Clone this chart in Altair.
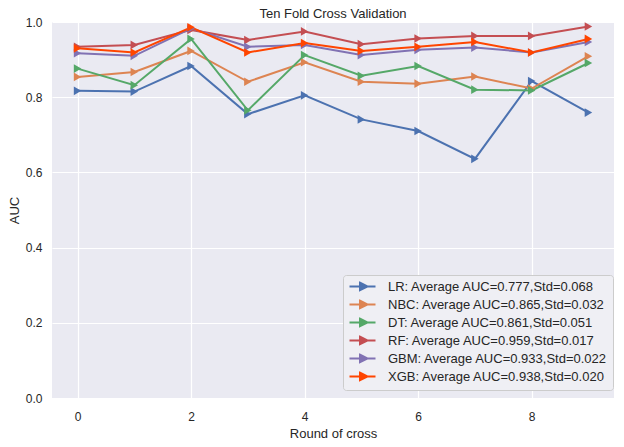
import altair as alt
import pandas as pd

rounds = list(range(10))
labels = [
    "LR: Average AUC=0.777,Std=0.068",
    "NBC: Average AUC=0.865,Std=0.032",
    "DT: Average AUC=0.861,Std=0.051",
    "RF: Average AUC=0.959,Std=0.017",
    "GBM: Average AUC=0.933,Std=0.022",
    "XGB: Average AUC=0.938,Std=0.020",
]
lr = [0.817, 0.815, 0.883, 0.755, 0.805, 0.741, 0.710, 0.636, 0.843, 0.759]
nbc = [0.854, 0.867, 0.923, 0.841, 0.893, 0.841, 0.836, 0.855, 0.823, 0.909]
dt = [0.876, 0.832, 0.955, 0.765, 0.912, 0.857, 0.883, 0.820, 0.818, 0.891]
rf = [0.934, 0.939, 0.979, 0.952, 0.975, 0.941, 0.956, 0.963, 0.963, 0.988]
gbm = [0.917, 0.910, 0.983, 0.934, 0.939, 0.912, 0.926, 0.932, 0.919, 0.947]
xgb = [0.930, 0.919, 0.986, 0.919, 0.944, 0.923, 0.934, 0.947, 0.919, 0.955]
colors = ["#4C72B0", "#DD8452", "#55A868", "#C44E52", "#8172B3", "#FF4500"]

series = [lr, nbc, dt, rf, gbm, xgb]
rows = []
for i, (lab, vals) in enumerate(zip(labels, series)):
    for r, v in zip(rounds, vals):
        rows.append({"model": lab, "order": i, "round": r, "auc": v})
df = pd.DataFrame(rows)

FONT = "Liberation Sans"

legend = alt.Legend(
    title=None,
    orient="none",
    legendX=291,
    legendY=253,
    symbolType="M-2.6,0L2.6,0M-0.5,-0.75L1.0,0L-0.5,0.75Z",
    symbolSize=100,
    symbolStrokeWidth=2,
    symbolOffset=8,
    labelOffset=19,
    labelFont=FONT,
    labelFontSize=13,
    labelColor="#262626",
    labelLimit=400,
    rowPadding=1,
    padding=5,
    fillColor="#EFEFF4",
    strokeColor="#CCCCCC",
    cornerRadius=3,
)
scale = alt.Scale(domain=labels, range=colors)

x = alt.X(
    "round:Q",
    scale=alt.Scale(domain=[-0.45, 9.45], nice=False, zero=False),
    axis=alt.Axis(values=[0, 2, 4, 6, 8], format="d", title="Round of cross",
                  labelPadding=13, titlePadding=5),
)
y = alt.Y(
    "auc:Q",
    scale=alt.Scale(domain=[0, 1], nice=False),
    axis=alt.Axis(values=[0, 0.2, 0.4, 0.6, 0.8, 1.0], format=".1f", title="AUC",
                  labelPadding=10, titlePadding=4),
)

base = alt.Chart(df)
lines = base.mark_line(strokeWidth=2).encode(
    x=x, y=y,
    stroke=alt.Stroke("model:N", sort=labels, scale=scale, legend=legend),
    order="round:Q",
)
points = base.mark_point(shape="triangle-right", filled=True, size=75, opacity=1,
                         strokeWidth=0).encode(
    x=x, y=y,
    fill=alt.Fill("model:N", sort=labels, scale=scale, legend=legend),
)

chart = (
    alt.layer(lines, points)
    .properties(
        width=562,
        height=376,
        title=alt.TitleParams("Ten Fold Cross Validation", fontSize=13, font=FONT,
                              fontWeight="normal", color="#262626", offset=-5),
        autosize=alt.AutoSizeParams(type="pad"),
        padding={"left": 0, "top": 0, "right": 0, "bottom": 0},
    )
    .configure_view(stroke=None, fill="#EAEAF2")
    .configure_axis(
        grid=True,
        gridColor="white",
        gridWidth=1.2,
        domain=False,
        ticks=False,
        tickSize=0,
        labelFont=FONT,
        labelFontSize=12,
        labelColor="#262626",
        titleFont=FONT,
        titleFontSize=13,
        titleFontWeight="normal",
        titleColor="#262626",
    )
)

chart.save("out.html", embed_options={"renderer": "svg", "actions": False})
